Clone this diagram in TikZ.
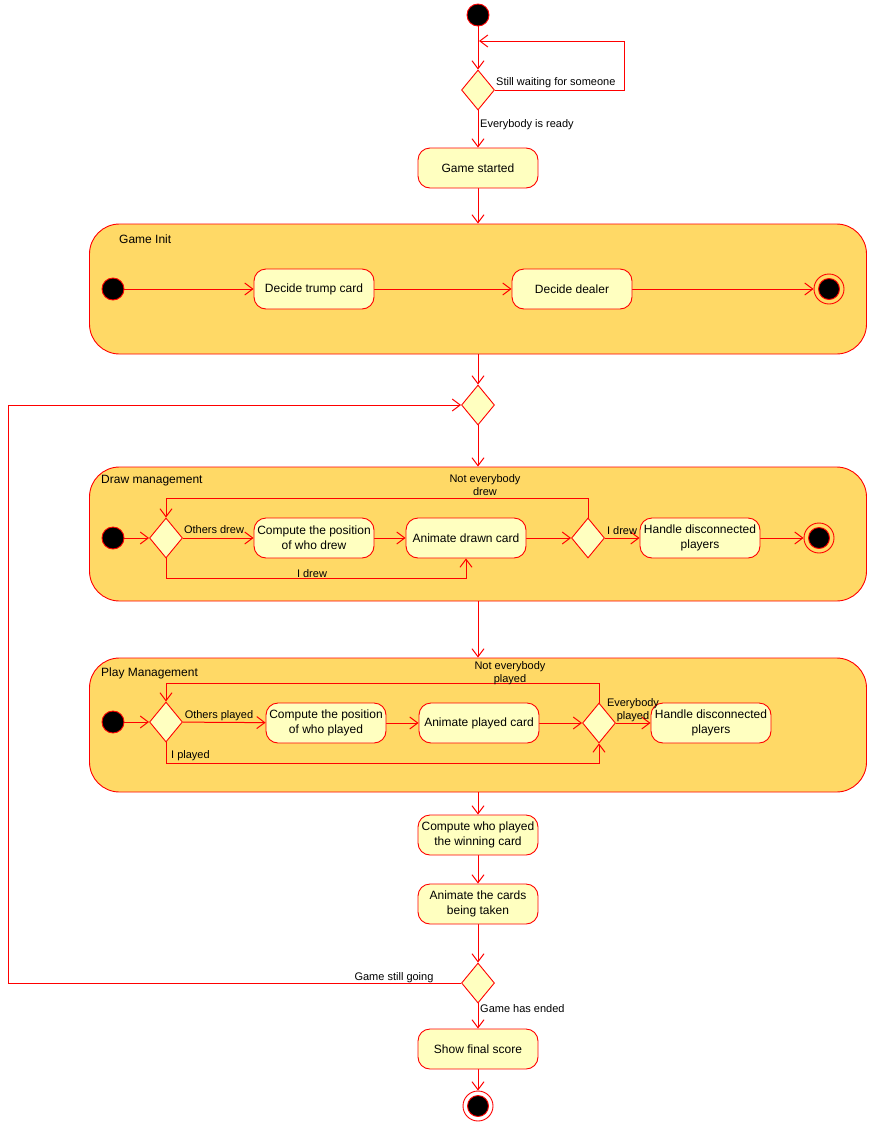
\documentclass[tikz,border=0pt]{standalone}
\usepackage{fontspec}
\setmainfont{Liberation Sans}
\usepackage{tikz}
\usetikzlibrary{arrows.meta,shapes.geometric}
\pgfdeclarelayer{background}
\pgfdeclarelayer{nodelayer}
\pgfdeclarelayer{edgelayer}
\pgfsetlayers{background,edgelayer,nodelayer,main}
\definecolor{boxfill}{HTML}{FFFFC0}
\definecolor{regionfill}{HTML}{FFD966}
\tikzstyle{state}=[fill=boxfill, draw=red, line width=0.9pt, shape=rectangle, rounded corners=12pt, minimum width=120pt, minimum height=40pt, inner sep=1pt, align=center, font=\fontsize{12}{15}\selectfont]
\tikzstyle{decision}=[fill=boxfill, draw=red, line width=0.9pt, shape=diamond, minimum width=33pt, minimum height=40pt, inner sep=0pt]
\tikzstyle{initial}=[fill=black, draw=red, line width=0.9pt, shape=circle, minimum size=22pt, inner sep=0pt]
\tikzstyle{final}=[fill=none, draw=red, line width=0.9pt, shape=circle, minimum size=30pt, inner sep=0pt, path picture={\filldraw[fill=black, draw=red] (path picture bounding box.center) circle (10.5pt);}]
\tikzstyle{region}=[fill=regionfill, draw=red, line width=0.9pt, shape=rectangle, rounded corners=30pt, minimum width=777pt, minimum height=134pt]
\tikzstyle{title}=[anchor=west, inner sep=0pt, font=\fontsize{12}{15}\selectfont]
\tikzstyle{guard}=[inner sep=0pt, align=center, font=\fontsize{11}{13}\selectfont]
\tikzstyle{flow}=[draw=red, line width=1pt, -{Straight Barb[length=8pt, width=12pt]}]

\begin{document}
\begin{tikzpicture}[x=1pt, y=-1pt]
	\useasboundingbox (0, 0) rectangle (869, 1122);
	\begin{pgfonlayer}{background}
		\node [style=region, minimum height=130pt] (3) at (478, 289) {};
		\node [style=region] (10) at (478, 534) {};
		\node [style=region] (19) at (478, 725) {};
	\end{pgfonlayer}
	\begin{pgfonlayer}{nodelayer}
		\node [style=initial] (0) at (478, 15) {};
		\node [style=decision] (1) at (478, 90) {};
		\node [style=state] (2) at (478, 168) {Game started};
		\node [style=title] (4) at (119, 239) {Game Init};
		\node [style=initial] (5) at (113, 289) {};
		\node [style=state] (6) at (314, 289) {Decide trump card};
		\node [style=state] (7) at (572, 289) {Decide dealer};
		\node [style=final] (8) at (829, 289) {};
		\node [style=decision] (9) at (478, 405) {};
		\node [style=title] (11) at (101, 481) {Draw management};
		\node [style=initial] (12) at (113, 538) {};
		\node [style=decision] (13) at (166, 538) {};
		\node [style=state] (14) at (314, 538) {Compute the position\\of who drew};
		\node [style=state] (15) at (466, 538) {Animate drawn card};
		\node [style=decision] (16) at (588, 538) {};
		\node [style=state] (17) at (700, 538) {Handle disconnected\\players};
		\node [style=final] (18) at (819, 538) {};
		\node [style=title] (20) at (101, 673) {Play Management};
		\node [style=initial] (21) at (113, 722) {};
		\node [style=decision] (22) at (166, 722) {};
		\node [style=state] (23) at (326, 723) {Compute the position\\of who played};
		\node [style=state] (24) at (479, 723) {Animate played card};
		\node [style=decision] (25) at (599, 723) {};
		\node [style=state] (26) at (711, 723) {Handle disconnected\\players};
		\node [style=state] (27) at (478, 835) {Compute who played\\the winning card};
		\node [style=state] (28) at (478, 904) {Animate the cards\\being taken};
		\node [style=decision] (29) at (478, 983) {};
		\node [style=state] (30) at (478, 1049) {Show final score};
		\node [style=final] (31) at (478, 1106) {};
		\coordinate (40) at (624, 41);
		\coordinate (41) at (479, 41);
		\coordinate (42) at (8, 983);
		\coordinate (43) at (8, 405);
		\coordinate (44) at (588, 498);
		\coordinate (45) at (166, 498);
		\coordinate (46) at (166, 578);
		\coordinate (47) at (466, 578);
		\coordinate (48) at (599, 683);
		\coordinate (49) at (166, 683);
		\coordinate (50) at (166, 763);
		\coordinate (51) at (599, 763);
	\end{pgfonlayer}
	\begin{pgfonlayer}{edgelayer}
		\draw [style=flow] (0) to (1);
		\draw [style=flow] (1.east) -| (40) -- (41);
		\draw [style=flow] (1) to (2);
		\draw [style=flow] (2) to (3);
		\draw [style=flow] (5) to (6);
		\draw [style=flow] (6) to (7);
		\draw [style=flow] (7) to (8);
		\draw [style=flow] (3) to (9);
		\draw [style=flow] (9) to (10);
		\draw [style=flow] (12) to (13);
		\draw [style=flow] (13) to (14);
		\draw [style=flow] (14) to (15);
		\draw [style=flow] (15) to (16);
		\draw [style=flow] (16) to (17);
		\draw [style=flow] (17) to (18);
		\draw [style=flow] (16.north) -- (44) -- (45) -- (13.north);
		\draw [style=flow] (13.south) -- (46) -- (47) -- (15.south);
		\draw [style=flow] (10) to (19);
		\draw [style=flow] (21) to (22);
		\draw [style=flow] (22) to (23);
		\draw [style=flow] (23) to (24);
		\draw [style=flow] (24) to (25);
		\draw [style=flow] (25) to (26);
		\draw [style=flow] (25.north) -- (48) -- (49) -- (22.north);
		\draw [style=flow] (22.south) -- (50) -- (51) -- (25.south);
		\draw [style=flow] (19) to (27);
		\draw [style=flow] (27) to (28);
		\draw [style=flow] (28) to (29);
		\draw [style=flow] (29.west) -- (42) -- (43) -- (9.west);
		\draw [style=flow] (29) to (30);
		\draw [style=flow] (30) to (31);
	\end{pgfonlayer}
	\node [style=guard, anchor=west] at (496, 83) {Still waiting for someone};
	\node [style=guard, anchor=west] at (480, 125) {Everybody is ready};
	\node [style=guard] at (485, 485) {Not everybody\\drew};
	\node [style=guard] at (214, 530) {Others drew};
	\node [style=guard] at (312, 574) {I drew};
	\node [style=guard] at (622, 531) {I drew};
	\node [style=guard] at (510, 673) {Not everybody\\played};
	\node [style=guard] at (219, 716) {Others played};
	\node [style=guard, anchor=west] at (171, 756) {I played};
	\node [style=guard] at (633, 710) {Everybody\\played};
	\node [style=guard] at (394, 978) {Game still going};
	\node [style=guard, anchor=west] at (480, 1009) {Game has ended};
\end{tikzpicture}
\end{document}
